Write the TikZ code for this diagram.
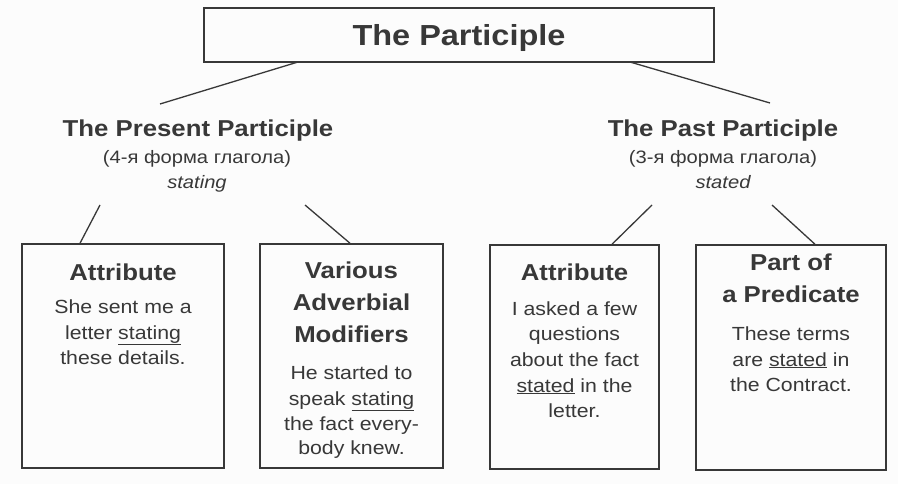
\documentclass[tikz,border=0pt]{standalone}
\usepackage{fontspec}
\setmainfont[FakeStretch=1.12]{Liberation Sans}
\definecolor{ink}{HTML}{383838}
\definecolor{paper}{HTML}{FCFCFC}
\begin{document}
\begin{tikzpicture}[x=1pt,y=-1pt,
  box/.style={draw=ink,line width=1.5pt,minimum width=#1,inner sep=0pt},
  conn/.style={draw=ink,line width=1.3pt},
  ttl/.style={anchor=base,inner sep=0pt,text=ink,font=\fontsize{29}{32}\selectfont\bfseries},
  hd/.style={anchor=base,inner sep=0pt,text=ink,font=\fontsize{23}{26}\selectfont\bfseries},
  ru/.style={anchor=base,inner sep=0pt,text=ink,font=\fontsize{18}{21}\selectfont},
  it/.style={anchor=base,inner sep=0pt,text=ink,font=\fontsize{18}{21}\selectfont\itshape},
  bx/.style={anchor=base,inner sep=0pt,text=ink,font=\fontsize{19}{22}\selectfont}]
\fill[paper] (0,0) rectangle (898,484);
\useasboundingbox (0,0) rectangle (898,484);
% top box
\node[draw=ink,line width=1.5pt,minimum width=510pt,minimum height=54pt,inner sep=0pt] (top) at (459,35) {};
\node[ttl] (title) at (459,46) {The Participle};
% headings
\node[hd] (pres) at (198,137) {The Present Participle};
\node[ru] (presru) at (197,164) {(4-я форма глагола)};
\node[it] (presit) at (197,189) {stating};
\node[hd] (past) at (723,137) {The Past Participle};
\node[ru] (pastru) at (723,164) {(3-я форма глагола)};
\node[it] (pastit) at (723,189) {stated};
% boxes
\node[draw=ink,line width=1.5pt,minimum width=202pt,minimum height=224pt,inner sep=0pt] (b1) at (123,356) {};
\node[draw=ink,line width=1.5pt,minimum width=183pt,minimum height=224pt,inner sep=0pt] (b2) at (351.5,356) {};
\node[draw=ink,line width=1.5pt,minimum width=169pt,minimum height=224pt,inner sep=0pt] (b3) at (574.5,357) {};
\node[draw=ink,line width=1.5pt,minimum width=190pt,minimum height=225pt,inner sep=0pt] (b4) at (791,357.5) {};
% connector end points
\coordinate (a1) at (298,62);  \coordinate (a2) at (160,104);
\coordinate (a3) at (630,62);  \coordinate (a4) at (770,103);
\coordinate (c1) at (100,205); \coordinate (c2) at (305,205);
\coordinate (c3) at (652,205); \coordinate (c4) at (772,205);
\draw[conn] (a1) -- (a2);
\draw[conn] (a3) -- (a4);
\draw[conn] (c1) -- (b1.north -| 80,0);
\draw[conn] (c2) -- (b2.north -| 350,0);
\draw[conn] (c3) -- (b3.north -| 612,0);
\draw[conn] (c4) -- (b4.north -| 815,0);
% box 1
\node[hd] (b1h) at (123,280) {Attribute};
\node[bx] (b1l1) at (123,313) {She sent me a};
\node[bx] (b1l2) at (123,339) {letter \underline{stating}};
\node[bx] (b1l3) at (123,364) {these details.};
% box 2
\node[hd] (b2h1) at (351.5,278) {Various};
\node[hd] (b2h2) at (351.5,310) {Adverbial};
\node[hd] (b2h3) at (351.5,342) {Modifiers};
\node[bx] (b2l1) at (351.5,379) {He started to};
\node[bx] (b2l2) at (351.5,405) {speak \underline{stating}};
\node[bx] (b2l3) at (351.5,430) {the fact every-};
\node[bx] (b2l4) at (351.5,454) {body knew.};
% box 3
\node[hd] (b3h) at (574.5,280) {Attribute};
\node[bx] (b3l1) at (574.5,315) {I asked a few};
\node[bx] (b3l2) at (574.5,340) {questions};
\node[bx] (b3l3) at (574.5,366) {about the fact};
\node[bx] (b3l4) at (574.5,392) {\underline{stated} in the};
\node[bx] (b3l5) at (574.5,417) {letter.};
% box 4
\node[hd] (b4h1) at (791,270) {Part of};
\node[hd] (b4h2) at (791,302) {a Predicate};
\node[bx] (b4l1) at (791,340) {These terms};
\node[bx] (b4l2) at (791,366) {are \underline{stated} in};
\node[bx] (b4l3) at (791,391) {the Contract.};
\end{tikzpicture}
\end{document}
